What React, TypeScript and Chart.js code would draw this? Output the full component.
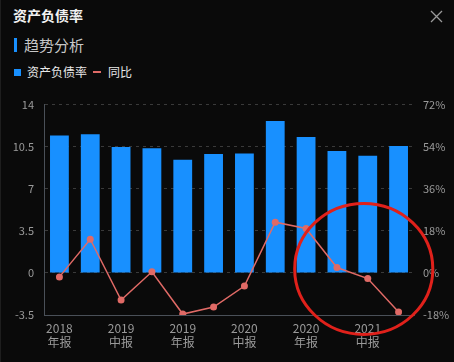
import React, { useEffect, useRef } from "react";
import { Chart, registerables } from "chart.js";

Chart.register(...registerables);

const periods = [
  ["2018", "年报"], ["2019", "一季报"], ["2019", "中报"], ["2019", "三季报"],
  ["2019", "年报"], ["2020", "一季报"], ["2020", "中报"], ["2020", "三季报"],
  ["2020", "年报"], ["2021", "一季报"], ["2021", "中报"], ["2021", "三季报"],
];
const debtRatio = [11.42, 11.53, 10.47, 10.36, 9.42, 9.89, 9.94, 12.64, 11.31, 10.14, 9.75, 10.56];
const yoy = [-1.7, 14.4, -11.6, 0.5, -17.6, -14.6, -5.6, 21.7, 19.0, 2.3, -2.4, -16.7];
const leftTicks = [-3.5, 0, 3.5, 7, 10.5, 14];
const rightTicks = [-18, 0, 18, 36, 54, 72];

const FONT = '"Noto Sans CJK SC", "Noto Sans", sans-serif';

const ellipsePlugin = {
  id: "highlightEllipse",
  afterDraw(chart: any) {
    const { ctx, scales } = chart;
    const x = scales.x;
    const y = scales.y;
    const cx = (x.getPixelForValue(9) + x.getPixelForValue(11)) / 2 - 4;
    const cy = y.getPixelForValue(0) - 4;
    const rx = (x.getPixelForValue(11) - x.getPixelForValue(9)) * 1.12;
    const ry = 65.5;
    ctx.save();
    ctx.beginPath();
    ctx.ellipse(cx, cy, rx, ry, 0, 0, Math.PI * 2);
    ctx.strokeStyle = "#e0211b";
    ctx.lineWidth = 3;
    ctx.stroke();
    ctx.restore();
  },
};

export default function App() {
  const ref = useRef<HTMLCanvasElement | null>(null);

  useEffect(() => {
    if (!ref.current) return;
    const chart = new Chart(ref.current, {
      type: "bar",
      data: {
        labels: periods.map((p) => p.join("")),
        datasets: [
          {
            type: "line",
            label: "同比",
            data: yoy,
            yAxisID: "y1",
            borderColor: "#e06a66",
            backgroundColor: "#e06a66",
            borderWidth: 1.5,
            pointRadius: 3.5,
            pointHoverRadius: 3.5,
            pointBackgroundColor: "#e06a66",
            pointBorderWidth: 0,
            tension: 0,
            order: 0,
          },
          {
            type: "bar",
            label: "资产负债率",
            data: debtRatio,
            yAxisID: "y",
            backgroundColor: "#1890ff",
            categoryPercentage: 0.61,
            barPercentage: 1,
            order: 1,
          },
        ],
      },
      options: {
        animation: false,
        responsive: true,
        maintainAspectRatio: false,
        layout: { padding: { top: 5, left: 0, right: 0, bottom: 0 } },
        plugins: { legend: { display: false }, tooltip: { enabled: false } },
        scales: {
          x: {
            grid: { display: false, drawTicks: false },
            border: { display: true, color: "#4a5058", width: 1 },
            ticks: {
              autoSkip: false,
              maxRotation: 0,
              padding: 7,
              color: "#9a9a9a",
              font: { family: FONT, size: 12, lineHeight: 1.15 },
              callback: (_v: any, i: number) => (i % 2 === 0 ? periods[i] : ""),
            },
            afterFit: (s: any) => { s.height = 47; },
          },
          y: {
            position: "left",
            min: -3.5,
            max: 14,
            afterBuildTicks: (s: any) => { s.ticks = leftTicks.map((v) => ({ value: v })); },
            grid: { color: "#3a3a3a", drawTicks: false, lineWidth: 1 },
            border: { display: true, color: "#4a5058", dash: [3, 4] },
            ticks: {
              padding: 10,
              color: "#9a9a9a",
              font: { family: FONT, size: 11 },
              callback: (v: any) => String(v),
            },
            afterFit: (s: any) => { s.width = 43; },
          },
          y1: {
            position: "right",
            min: -18,
            max: 72,
            afterBuildTicks: (s: any) => { s.ticks = rightTicks.map((v) => ({ value: v })); },
            grid: { display: false, drawTicks: false },
            border: { display: false },
            ticks: {
              padding: 9,
              color: "#9a9a9a",
              font: { family: FONT, size: 11 },
              callback: (v: any) => v + "%",
            },
            afterFit: (s: any) => { s.width = 41; },
          },
        },
      },
      plugins: [ellipsePlugin],
    } as any);
    return () => chart.destroy();
  }, []);

  return (
    <div
      style={{
        position: "fixed",
        left: 0,
        top: 0,
        width: 454,
        height: 362,
        background: "#0a0a0a",
        fontFamily: FONT,
        overflow: "hidden",
        borderLeft: "1px solid #1e1e1e",
        boxSizing: "border-box",
      }}
    >
      <div style={{ position: "absolute", left: 12, top: 5, color: "#f2f2f2", fontSize: 14, fontWeight: 700, lineHeight: "20px" }}>
        资产负债率
      </div>
      <svg style={{ position: "absolute", left: 429, top: 10 }} width="13" height="13" viewBox="0 0 13 13">
        <path d="M1 1 L12 12 M12 1 L1 12" stroke="#9a9a9a" strokeWidth="1.3" />
      </svg>
      <div style={{ position: "absolute", left: 13, top: 38, width: 3, height: 14, background: "#1890ff" }} />
      <div style={{ position: "absolute", left: 23, top: 35, color: "#c8c8c8", fontSize: 15, lineHeight: "20px" }}>
        趋势分析
      </div>
      <div style={{ position: "absolute", left: 13, top: 62, display: "flex", alignItems: "center", color: "#e8e8e8", fontSize: 12, lineHeight: "20px" }}>
        <span style={{ display: "inline-block", width: 7, height: 7, background: "#1890ff", marginRight: 6 }} />
        <span>资产负债率</span>
        <span style={{ display: "inline-block", width: 8, height: 2, background: "#e06a66", marginLeft: 6, marginRight: 7 }} />
        <span>同比</span>
      </div>
      <div style={{ position: "absolute", left: 0, top: 88, width: 454, height: 274 }}>
        <canvas ref={ref} />
      </div>
    </div>
  );
}
